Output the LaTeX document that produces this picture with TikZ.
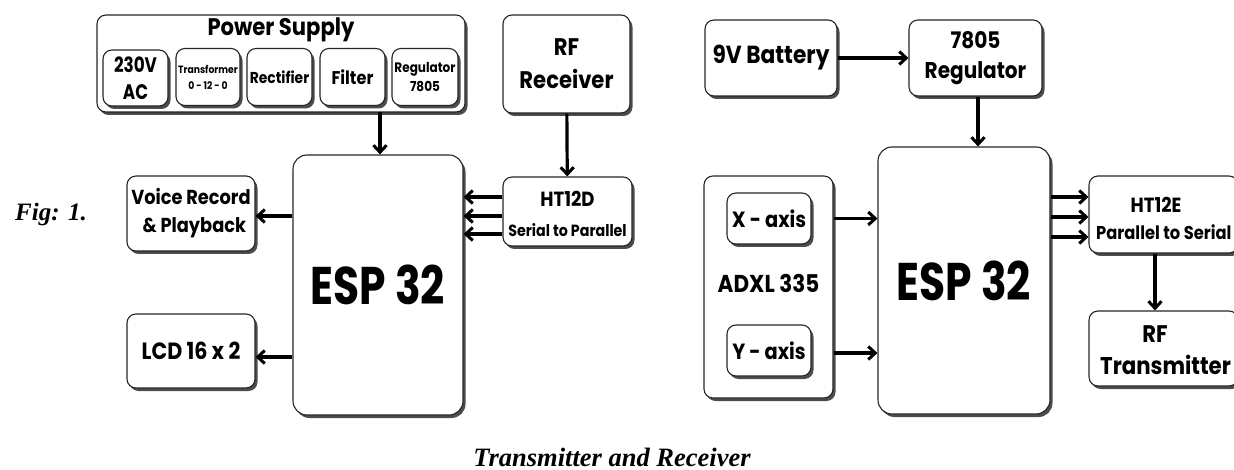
\documentclass[tikz,border=0pt]{standalone}
\usepackage{fontspec}
\setmainfont{Liberation Serif}
\newfontfamily\pop{Poppins}[FakeStretch=0.88]
\newfontfamily\popc{Poppins}[FakeStretch=0.8]
\usetikzlibrary{shadows,arrows.meta}
\newcommand\pf[2]{\pop\bfseries\fontsize{#1}{#2}\selectfont}
\newcommand\pc[2]{\popc\bfseries\fontsize{#1}{#2}\selectfont}
\begin{document}
\begin{tikzpicture}[x=1pt,y=-1pt,
 blk/.style={draw=black!85,line width=1.1pt,rounded corners=9pt,fill=white,
   drop shadow={shadow xshift=2.5pt,shadow yshift=-3pt,fill=black!70,opacity=1},
   inner sep=0pt,align=center},
 arr/.style={line width=3.2pt,-{Straight Barb[length=7pt,width=13pt,line width=3pt]}},
 captxt/.style={font=\bfseries\itshape\fontsize{25}{28}\selectfont}]
\clip (0,0) rectangle (1234,470);
\useasboundingbox (0,0) rectangle (1234,470);
% ---------- Receiver side ----------
\node[blk,minimum width=368pt,minimum height=97pt] (ps) at (281,63.5) {};
\node[font=\pf{24}{28}] (pst) at (281,30) {Power Supply};
\node[blk,minimum width=65pt,minimum height=56pt,font=\pc{21}{27}] (ac) at (135.5,78) {230V\\AC};
\node[blk,minimum width=64pt,minimum height=57pt,font=\pf{10.5}{16}] (tr) at (208,77) {Transformer\\0 - 12 - 0};
\node[blk,minimum width=65pt,minimum height=57pt,font=\pf{15.8}{18}] (rec) at (279.5,77) {Rectifier};
\node[blk,minimum width=65pt,minimum height=57pt,font=\pf{18.4}{20}] (fil) at (352.5,77) {Filter};
\node[blk,minimum width=66pt,minimum height=57pt,font=\pf{13.7}{19}] (reg1) at (425,77) {Regulator\\7805};

\node[blk,minimum width=127pt,minimum height=98pt,font=\pf{24}{33}] (rfr) at (566.5,64) {RF\\Receiver};
\node[blk,minimum width=129pt,minimum height=69pt] (ht12d) at (567.5,211.5) {};
\node[font=\pf{20.5}{22}] (htd1) at (567.5,199) {HT12D};
\node[font=\pf{16.2}{18}] (htd2) at (567.5,230) {Serial to Parallel};

\node[blk,rounded corners=14pt,minimum width=170pt,minimum height=260pt,font=\pc{53}{55}] (espL) at (378,285) {ESP 32};
\node[blk,minimum width=128pt,minimum height=75pt,font=\pf{20.2}{28}] (voice) at (191,213.5) {Voice Record\\\,\,\& Playback};
\node[blk,minimum width=128pt,minimum height=74pt,font=\pf{23.5}{26}] (lcd) at (191,351) {LCD 16 x 2};
\node[captxt] (fig) at (51,214) {Fig: 1.};

\coordinate (psout) at (380,112);
\draw[arr] (psout) -- (psout |- espL.north);
\draw[arr] (rfr) -- (ht12d);
\foreach \s in {14.5,-4.5,-22.5}
  \draw[arr] ([yshift=\s pt]ht12d.west) -- ([yshift=\s pt]ht12d.west -| espL.east);
\draw[arr] ([yshift=-2.5pt]espL.west |- voice.east) -- ([yshift=-2.5pt]voice.east);
\draw[arr] ([yshift=-6pt]espL.west |- lcd.east) -- ([yshift=-6pt]lcd.east);

% ---------- Transmitter side ----------
\node[blk,minimum width=132pt,minimum height=76pt,font=\pf{24.7}{27}] (bat) at (771,58) {9V Battery};
\node[blk,minimum width=133pt,minimum height=76pt,font=\pf{22.8}{30}] (reg2) at (975.5,58) {7805\\Regulator};
\node[blk,rounded corners=14pt,minimum width=172pt,minimum height=267pt,font=\pc{53}{55}] (espR) at (964,280.5) {ESP 32};
\node[blk,minimum width=129pt,minimum height=222pt] (adxl) at (768.5,287) {};
\node[font=\pf{24.4}{26}] (adxlt) at (768.5,283) {ADXL 335};
\node[blk,minimum width=84pt,minimum height=51pt,font=\pf{22}{24}] (xax) at (769,218.5) {X - axis};
\node[blk,minimum width=84pt,minimum height=51pt,font=\pf{22}{24}] (yax) at (769,350.5) {Y - axis};
\node[blk,minimum width=149pt,minimum height=77pt] (ht12e) at (1163.5,214.5) {};
\node[font=\pf{20.5}{22}] (hte1) at (1156,205) {HT12E};
\node[font=\pf{18.5}{20},anchor=west,inner sep=0pt] (hte2) at (1096,232) {Parallel to Serial};
\node[blk,minimum width=149pt,minimum height=75pt] (rft) at (1163.5,348.5) {};
\node[font=\pf{24}{26}] (rftt1) at (1155,334) {RF};
\node[font=\pf{24.2}{28},anchor=west,inner sep=0pt] (rftt2) at (1100,365) {Transmitter};

\draw[arr] (bat) -- (reg2);
\draw[arr] ([xshift=2.5pt]reg2.south) -- ([xshift=2.5pt]reg2.south |- espR.north);
\draw[arr] (adxl.east |- xax) -- (espR.west |- xax);
\draw[arr] ([yshift=-2.5pt]adxl.east |- yax) -- ([yshift=-2.5pt]espR.west |- yax);
\foreach \s in {17.5,-2.5,-22.5}
  \draw[arr] ([yshift=\s pt]espR.east |- ht12e.west) -- ([yshift=\s pt]ht12e.west);
\draw[arr] ([xshift=-8.5pt]ht12e.south) -- ([xshift=-8.5pt]ht12e.south |- rft.north);

\node[captxt,font=\bfseries\itshape\fontsize{26.5}{29}\selectfont] (title) at (612,457) {Transmitter and Receiver};
\end{tikzpicture}
\end{document}
